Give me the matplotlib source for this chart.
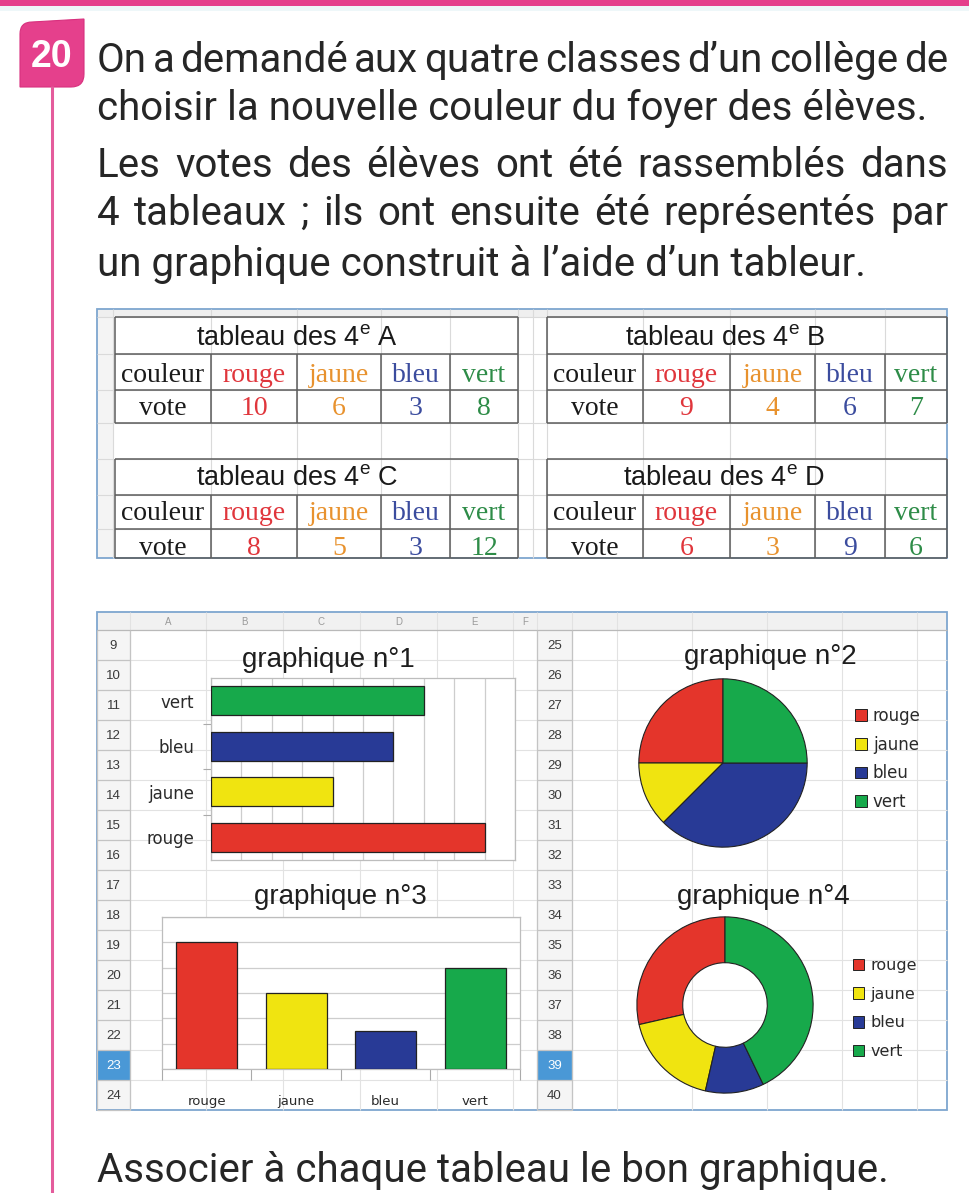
import matplotlib
matplotlib.use('Agg')
import matplotlib.pyplot as plt
from matplotlib.patches import Rectangle, Patch, PathPatch
from matplotlib.path import Path
from matplotlib import font_manager

W, H = 970, 1193
DPI = 100

# ------------------------------------------------------------------ data
couleurs = ['rouge', 'jaune', 'bleu', 'vert']
classes = ['A', 'B', 'C', 'D']
votes_A = [10, 6, 3, 8]
votes_B = [9, 4, 6, 7]
votes_C = [8, 5, 3, 12]
votes_D = [6, 3, 9, 6]
# graphique n°1 -> 4e B (horizontal bars), n°2 -> 4e D (pie),
# graphique n°3 -> 4e A (columns), n°4 -> 4e C (donut)
graph1_values = votes_B
graph2_values = votes_D
graph3_values = votes_A
graph4_values = votes_C
graph_titles = ['graphique n°1', 'graphique n°2', 'graphique n°3', 'graphique n°4']
left_rows = list(range(9, 25))
right_rows = list(range(25, 41))
sheet_letters = ['A', 'B', 'C', 'D', 'E', 'F']
para_lines = [
    "On a demandé aux quatre classes d\u2019un collège de",
    "choisir la nouvelle couleur du foyer des élèves.",
    "Les votes des élèves ont été rassemblés dans",
    "4 tableaux ; ils ont ensuite été représentés par",
    "un graphique construit à l\u2019aide d\u2019un tableur.",
]
question = "Associer à chaque tableau le bon graphique."
badge_number = "20"

# ------------------------------------------------------------------ styles
FILL = {'rouge': '#E4352B', 'jaune': '#F0E410', 'bleu': '#283A96', 'vert': '#17A94B'}
TXT = {'rouge': '#E0363C', 'jaune': '#E8922E', 'bleu': '#3B4C9E', 'vert': '#2E8C48'}
PINK = '#E5408C'
INK = '#262626'
SANS = 'Liberation Sans'
SERIF = 'Liberation Serif'
available = {f.name for f in font_manager.fontManager.ttflist}
PARA_FONT = 'Roboto' if 'Roboto' in available else 'DejaVu Sans'

fig = plt.figure(figsize=(W / DPI, H / DPI), dpi=DPI)
fig.patch.set_facecolor('white')
bg = fig.add_axes([0, 0, 1, 1])
bg.set_xlim(0, W)
bg.set_ylim(H, 0)
bg.axis('off')
R = fig.canvas.get_renderer()


def px_axes(x0, y0, x1, y1):
    return fig.add_axes([x0 / W, 1 - y1 / H, (x1 - x0) / W, (y1 - y0) / H])


def hline(y, x0, x1, **kw):
    kw.setdefault('solid_capstyle', 'butt')
    bg.plot([x0, x1], [y, y], **kw)


def vline(x, y0, y1, **kw):
    kw.setdefault('solid_capstyle', 'butt')
    bg.plot([x, x], [y0, y1], **kw)


def rect(x0, y0, x1, y1, **kw):
    bg.add_patch(Rectangle((x0, y0), x1 - x0, y1 - y0, **kw))


def twidth(s, size, family, **kw):
    t = bg.text(0, 0, s, fontsize=size, family=family, **kw)
    w = t.get_window_extent(renderer=R).width
    t.remove()
    return w


# ------------------------------------------------------------------ header
rect(0, 0, W, 6, fc=PINK, ec='none')
rect(0, 6, W, 11, fc='#eef7f9', ec='none')
vline(52, 86, H, color='#E45C9C', lw=2.2)
badge = Path([(20, 87), (20, 34), (20, 22), (32, 22), (84, 19), (84, 74), (84, 87), (71, 87), (20, 87)],
             [Path.MOVETO, Path.LINETO, Path.CURVE3, Path.CURVE3, Path.LINETO, Path.LINETO,
              Path.CURVE3, Path.CURVE3, Path.CLOSEPOLY])
bg.add_patch(PathPatch(badge, fc=PINK, ec='#D8307E', lw=0.8))
bg.text(52, 57, badge_number, ha='center', va='center', color='white', fontsize=27,
        fontweight='bold', family=SANS)

# paragraph : one size for all lines
X0, X1 = 97, 948
base = 28
baselines = [72, 120, 177, 225, 276]
justify = [True, False, True, True, False]
natural_targets = [846, 846, 846, 846, 781]
MIN_GAP = 6
ks = []
for line, jus, tgt in zip(para_lines, justify, natural_targets):
    if jus:
        words = line.split(' ')
        sw = sum(twidth(w, base, PARA_FONT) for w in words)
        ks.append((X1 - X0 - MIN_GAP * (len(words) - 1)) / sw)
    else:
        ks.append(tgt / twidth(line, base, PARA_FONT))
PSIZE = base * min(ks)
for line, yb, jus in zip(para_lines, baselines, justify):
    if not jus:
        bg.text(X0, yb, line, fontsize=PSIZE, family=PARA_FONT, color=INK, va='baseline')
        continue
    words = line.split(' ')
    ws = [twidth(w, PSIZE, PARA_FONT) for w in words]
    gap = (X1 - X0 - sum(ws)) / (len(words) - 1)
    x = X0
    for w, wd in zip(words, ws):
        bg.text(x, yb, w, fontsize=PSIZE, family=PARA_FONT, color=INK, va='baseline')
        x += wd + gap
bg.text(X0, 1182, question, fontsize=PSIZE, family=PARA_FONT, color=INK, va='baseline')

# ------------------------------------------------------------------ tables block
TX0, TY0, TX1, TY1 = 97, 309, 947, 558
rect(TX0, TY0, TX1, TY1, fc='white', ec='none')
rect(TX0, TY0, TX1, 317, fc='#efefef', ec='none')
rect(TX0, 317, 113, TY1, fc='#f4f4f4', ec='none')
sheet_v = [113, 211, 297, 381, 450, 518, 533, 547, 643, 730, 815, 885]
sheet_h = [317, 354, 390, 423, 459, 495, 529]
for x in sheet_v:
    vline(x, TY0, TY1, color='#dadada', lw=0.8)
for y in sheet_h:
    hline(y, TX0, TX1, color='#dadada', lw=0.8)

cols_left = [115, 211, 297, 381, 450, 518]
cols_right = [547, 643, 730, 815, 885, 947]
rows_top = [317, 354, 390, 423]
rows_bot = [459, 495, 529, 558]
base_top = [345, 382, 415]
base_bot = [485, 520, 555]
TC = '#5c5c5c'


def draw_table(cols, rows, bases, title_x, letter, values):
    x0, x1 = cols[0], cols[-1]
    y0, y1, y2, y3 = rows
    rect(x0, y0, x1, y3, fc='white', ec='none')
    for y in rows:
        hline(y, x0, x1, color=TC, lw=1.1)
    vline(x0, y0, y3, color=TC, lw=1.1)
    vline(x1, y0, y3, color=TC, lw=1.1)
    for x in cols[1:-1]:
        vline(x, y1, y3, color=TC, lw=1.1)
    bg.text(title_x, bases[0], r'tableau des 4$^{\mathregular{e}}$ ' + letter, ha='center',
            va='baseline', fontsize=19.5, family=SANS, color='#1a1a1a')
    cx0 = (cols[0] + cols[1]) / 2
    bg.text(cx0, bases[1], 'couleur', ha='center', va='baseline', fontsize=20, family=SERIF, color='#1a1a1a')
    bg.text(cx0, bases[2], 'vote', ha='center', va='baseline', fontsize=20, family=SERIF, color='#1a1a1a')
    for i, (c, v) in enumerate(zip(couleurs, values)):
        cx = (cols[i + 1] + cols[i + 2]) / 2
        bg.text(cx, bases[1], c, ha='center', va='baseline', fontsize=20, family=SERIF, color=TXT[c])
        bg.text(cx, bases[2], str(v), ha='center', va='baseline', fontsize=20, family=SERIF, color=TXT[c])


draw_table(cols_left, rows_top, base_top, 297, classes[0], votes_A)
draw_table(cols_right, rows_top, base_top, 725, classes[1], votes_B)
draw_table(cols_left, rows_bot, base_bot, 297, classes[2], votes_C)
draw_table(cols_right, rows_bot, base_bot, 724, classes[3], votes_D)
rect(TX0, TY0, TX1, TY1, fc='none', ec='#7ea6cf', lw=1.3)

# ------------------------------------------------------------------ charts block
CX0, CY0, CX1, CY1 = 97, 612, 947, 1110
HDR = 630
rect(CX0, CY0, CX1, CY1, fc='white', ec='none')
rect(CX0, CY0, CX1, HDR, fc='#f1f1f1', ec='none')
left_cols = [130, 206, 283, 360, 437, 513, 537]
right_cols = [572, 617, 692, 767, 842, 917]
row_edges = [HDR + 30 * i for i in range(len(left_rows) + 1)]
for x in left_cols + right_cols:
    vline(x, CY0, CY1, color='#e2e2e2', lw=0.8)
for y in row_edges[1:-1]:
    hline(y, 130, 537, color='#e2e2e2', lw=0.8)
    hline(y, 572, CX1, color='#e2e2e2', lw=0.8)
for i, L in enumerate(sheet_letters):
    x = (left_cols[i] + left_cols[i + 1]) / 2
    bg.text(x, 622, L, ha='center', va='center', fontsize=7, color='#9a9a9a', family=SANS)
hline(HDR, CX0, CX1, color='#b9b9b9', lw=0.9)

# row headers
for (hx0, hx1, labels) in [(CX0, 130, left_rows), (537, 572, right_rows)]:
    rect(hx0, HDR, hx1, CY1, fc='#f5f5f5', ec='none')
    for i, lab in enumerate(labels):
        y0 = row_edges[i]
        sel = lab in (23, 39)
        if sel:
            rect(hx0, y0, hx1, y0 + 30, fc='#4a98d6', ec='none')
        bg.text((hx0 + hx1) / 2, y0 + 16, str(lab), ha='center', va='center', fontsize=9.5,
                family=SANS, color='white' if sel else '#3a3a3a')
        hline(y0 + 30, hx0, hx1, color='#c4c4c4', lw=0.9)
    vline(hx1, HDR, CY1, color='#c4c4c4', lw=0.9)
    vline(hx0, HDR, CY1, color='#c4c4c4', lw=0.9)

# white chart objects
rect(143, 633, 513, 861, fc='white', ec='none')
rect(153, 873, 520, 1108, fc='white', ec='none')
rect(575, 633, 944, 860, fc='white', ec='none')
rect(575, 872, 944, 1100, fc='white', ec='none')

bg.text(328, 660, graph_titles[0], ha='center', va='center', fontsize=20, family=SANS, color='#1e1e1e')
bg.text(770, 657, graph_titles[1], ha='center', va='center', fontsize=20, family=SANS, color='#1e1e1e')
bg.text(340, 897, graph_titles[2], ha='center', va='center', fontsize=20, family=SANS, color='#1e1e1e')
bg.text(763, 897, graph_titles[3], ha='center', va='center', fontsize=20, family=SANS, color='#1e1e1e')
rect(CX0, CY0, CX1, CY1, fc='none', ec='#7ea6cf', lw=1.3)

GRID = '#cdcdcd'
EDGE = '#222222'

# graphique n°1 : horizontal bars (bottom -> top : rouge, jaune, bleu, vert)
ax1 = px_axes(211, 678, 515, 860)
pos = list(range(len(couleurs)))
ax1.barh(pos, graph1_values, height=0.64, color=[FILL[c] for c in couleurs],
         edgecolor=EDGE, linewidth=0.9, zorder=3)
ax1.set_xlim(0, 10)
ax1.set_ylim(-0.5, 3.5)
ax1.set_xticks(range(11))
ax1.set_xticklabels([])
ax1.tick_params(axis='x', length=0)
ax1.grid(axis='x', color=GRID, lw=0.9, zorder=0)
ax1.set_yticks([0.5, 1.5, 2.5])
ax1.set_yticklabels([])
ax1.tick_params(axis='y', which='major', length=6, color='#aaaaaa', width=0.8)
ax1.set_yticks(pos, minor=True)
ax1.set_yticklabels(couleurs, minor=True, fontsize=12, family='DejaVu Sans', color='#2a2a2a')
ax1.tick_params(axis='y', which='minor', length=0, pad=12)
for s in ax1.spines.values():
    s.set_color('#bdbdbd')
    s.set_linewidth(0.9)

# graphique n°3 : columns
ax3 = px_axes(162, 917, 520, 1069)
ax3.bar(pos, graph3_values, width=0.68, color=[FILL[c] for c in couleurs],
        edgecolor=EDGE, linewidth=0.9, zorder=3)
ax3.set_xlim(-0.5, 3.5)
ax3.set_ylim(0, 12)
ax3.set_yticks(range(0, 13, 2))
ax3.set_yticklabels([])
ax3.tick_params(axis='y', length=0)
ax3.grid(axis='y', color=GRID, lw=0.9, zorder=0)
ax3.set_xticks([-0.5, 0.5, 1.5, 2.5, 3.5])
ax3.set_xticklabels([])
ax3.tick_params(axis='x', which='major', length=8, color='#aaaaaa', width=0.8)
ax3.set_xticks(pos, minor=True)
ax3.set_xticklabels(couleurs, minor=True, fontsize=9.5, family='DejaVu Sans', color='#2a2a2a')
ax3.tick_params(axis='x', which='minor', length=0, pad=19)
for s in ax3.spines.values():
    s.set_color('#bdbdbd')
    s.set_linewidth(0.9)


def legend(ax, x, ytop, size, spacing):
    handles = [Patch(facecolor=FILL[c], edgecolor=EDGE, linewidth=0.7) for c in couleurs]
    ax.legend(handles, couleurs, loc='upper left', bbox_to_anchor=(x / W, 1 - ytop / H),
              bbox_transform=fig.transFigure, frameon=False, borderpad=0, borderaxespad=0,
              handlelength=0.72, handleheight=0.72, handletextpad=0.35, labelspacing=spacing,
              prop=dict(family='DejaVu Sans', size=size), labelcolor='#2a2a2a')


# graphique n°2 : pie
r2 = 85
ax2 = px_axes(723 - r2, 763 - r2, 723 + r2, 763 + r2)
ax2.pie(graph2_values, colors=[FILL[c] for c in couleurs], startangle=90, counterclock=True,
        wedgeprops=dict(edgecolor=EDGE, linewidth=0.8))
ax2.set_xlim(-1.01, 1.01)
ax2.set_ylim(-1.01, 1.01)
legend(ax2, 855, 707, 12, 0.64)

# graphique n°4 : donut
r4 = 89
ax4 = px_axes(725 - r4, 1005 - r4, 725 + r4, 1005 + r4)
ax4.pie(graph4_values, colors=[FILL[c] for c in couleurs], startangle=90, counterclock=True,
        wedgeprops=dict(edgecolor=EDGE, linewidth=0.8, width=0.52))
ax4.set_xlim(-1.01, 1.01)
ax4.set_ylim(-1.01, 1.01)
legend(ax4, 853, 958, 11.5, 0.86)

fig.savefig('out.png', dpi=DPI, facecolor='white')
